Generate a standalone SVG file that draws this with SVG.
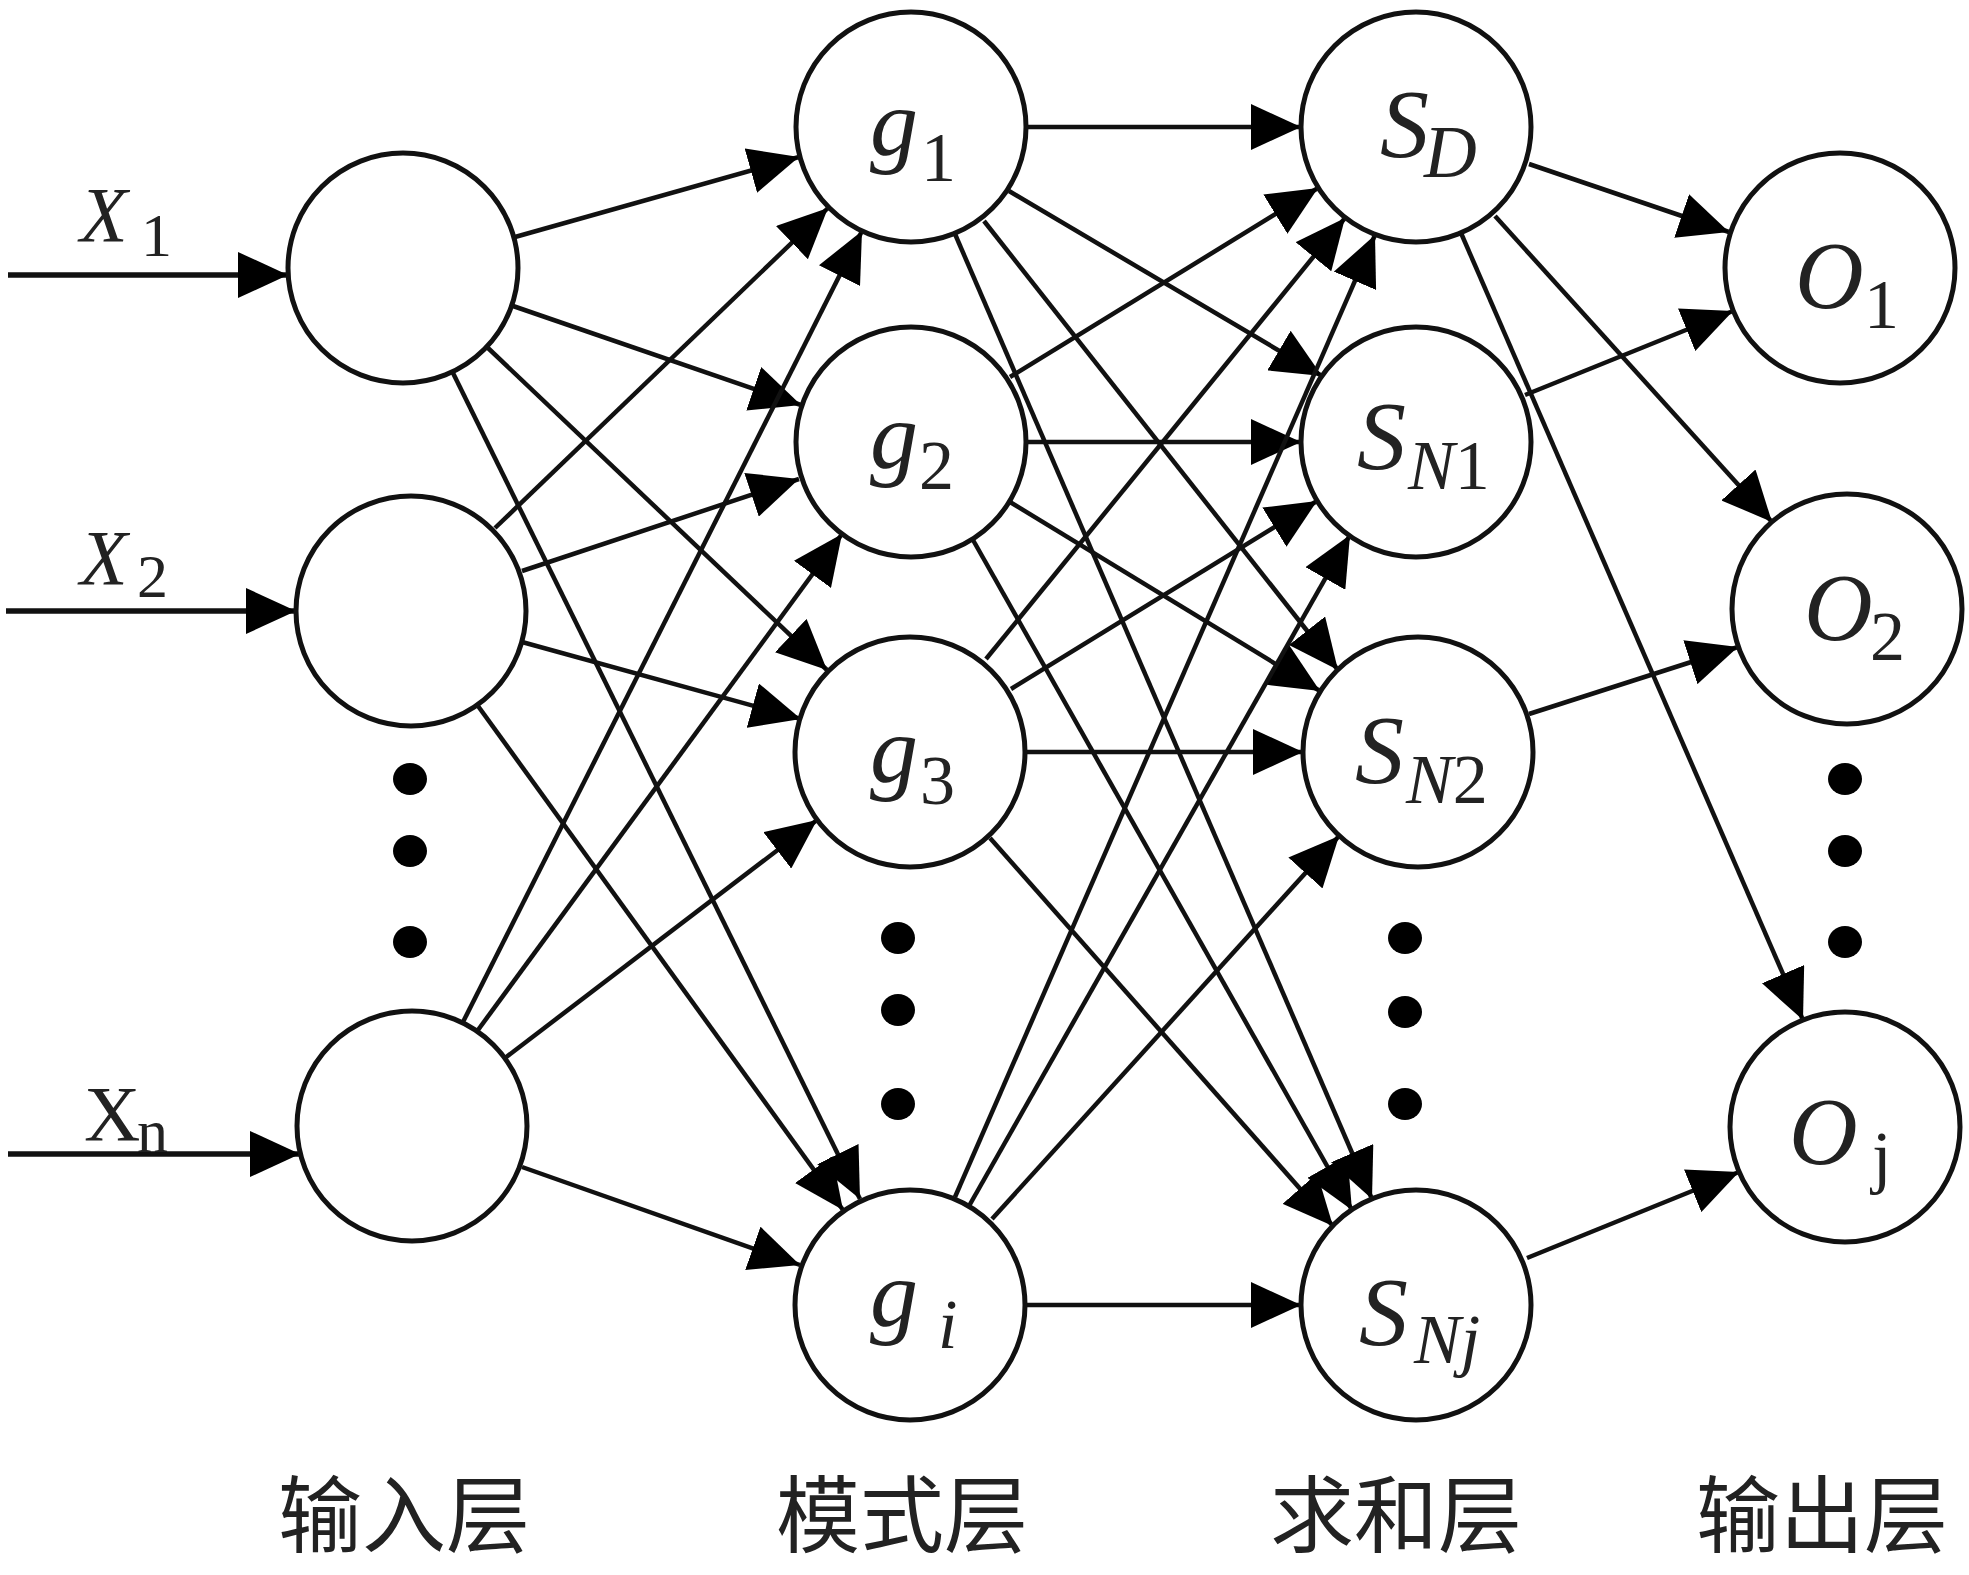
<svg xmlns="http://www.w3.org/2000/svg" width="1969" height="1575" viewBox="0 0 1969 1575">
<style>
.n{fill:#fff;stroke:#111;stroke-width:5}
.e{stroke:#111;stroke-width:4.5;fill:none;marker-end:url(#ah)}
.in{stroke:#111;stroke-width:5.5;fill:none;marker-end:url(#ah)}
.dot{fill:#000}
.v{font-family:"Liberation Serif","Times New Roman",serif;font-style:italic;fill:#222}
.big{font-size:96px}
.sub{font-size:70px}
.r{font-style:normal}
.lab{font-family:"Noto Sans CJK SC","Noto Sans CJK TC",sans-serif;font-size:84px;fill:#222;text-anchor:middle}
</style>
<defs>
<marker id="ah" markerUnits="userSpaceOnUse" markerWidth="50" markerHeight="46" viewBox="-50 -23 50 46" refX="0" refY="0" orient="auto">
<path d="M0,0 L-50,-23 L-50,23 Z" fill="#000"/>
</marker>
</defs>
<rect width="1969" height="1575" fill="#fff"/>
<g id="connectors">
<line class="in" x1="8" y1="275" x2="288" y2="275"/>
<line class="in" x1="6" y1="611" x2="296" y2="611"/>
<line class="in" x1="8" y1="1154" x2="300" y2="1154"/>
<line class="e" x1="515" y1="237" x2="799" y2="157"/>
<line class="e" x1="513" y1="306" x2="801" y2="405"/>
<line class="e" x1="488" y1="348" x2="827" y2="670"/>
<line class="e" x1="453" y1="373" x2="860" y2="1199"/>
<line class="e" x1="495" y1="528" x2="828" y2="208"/>
<line class="e" x1="522" y1="571" x2="799" y2="479"/>
<line class="e" x1="522" y1="642" x2="801" y2="719"/>
<line class="e" x1="478" y1="706" x2="843" y2="1210"/>
<line class="e" x1="463" y1="1022" x2="862" y2="231"/>
<line class="e" x1="478" y1="1030" x2="842" y2="534"/>
<line class="e" x1="505" y1="1058" x2="817" y2="820"/>
<line class="e" x1="522" y1="1167" x2="800" y2="1265"/>
<line class="e" x1="1026" y1="127" x2="1301" y2="127"/>
<line class="e" x1="1009" y1="191" x2="1322" y2="376"/>
<line class="e" x1="984" y1="221" x2="1338" y2="670"/>
<line class="e" x1="955" y1="234" x2="1372" y2="1199"/>
<line class="e" x1="1010" y1="377" x2="1318" y2="188"/>
<line class="e" x1="1026" y1="442" x2="1301" y2="442"/>
<line class="e" x1="1010" y1="502" x2="1320" y2="691"/>
<line class="e" x1="973" y1="540" x2="1352" y2="1210"/>
<line class="e" x1="986" y1="659" x2="1345" y2="218"/>
<line class="e" x1="1011" y1="689" x2="1317" y2="501"/>
<line class="e" x1="1025" y1="752" x2="1303" y2="752"/>
<line class="e" x1="990" y1="838" x2="1333" y2="1226"/>
<line class="e" x1="955" y1="1197" x2="1375" y2="235"/>
<line class="e" x1="969" y1="1206" x2="1350" y2="535"/>
<line class="e" x1="992" y1="1219" x2="1339" y2="836"/>
<line class="e" x1="1025" y1="1305" x2="1301" y2="1305"/>
<line class="e" x1="1529" y1="164" x2="1729" y2="232"/>
<line class="e" x1="1495" y1="216" x2="1772" y2="522"/>
<line class="e" x1="1461" y1="233" x2="1803" y2="1020"/>
<line class="e" x1="1525" y1="395" x2="1733" y2="311"/>
<line class="e" x1="1529" y1="714" x2="1738" y2="647"/>
<line class="e" x1="1527" y1="1258" x2="1739" y2="1172"/>
</g>
<g id="input-labels">
<text class="v" style="font-size:78px" x="80" y="241">X</text>
<text class="v r" style="font-size:62px" x="141" y="256">1</text>
<text class="v" style="font-size:78px" x="80" y="584">X</text>
<text class="v r" style="font-size:62px" x="137" y="597">2</text>
<text class="v r" style="font-size:78px" x="84" y="1140">X</text>
<text class="v r" style="font-size:62px" x="137" y="1152">n</text>
</g>
<g id="in1"><circle class="n" cx="403" cy="268" r="115"/></g>
<g id="in2"><circle class="n" cx="411" cy="611" r="115"/></g>
<g id="in3"><circle class="n" cx="412" cy="1126" r="115"/></g>
<g id="in-dots"><ellipse class="dot" cx="410" cy="779" rx="17" ry="16"/><ellipse class="dot" cx="410" cy="851" rx="17" ry="16"/><ellipse class="dot" cx="410" cy="942" rx="17" ry="16"/></g>
<g id="g1"><circle class="n" cx="911" cy="127" r="115"/><text class="v big" x="870" y="155">g</text><text class="v r sub" x="921" y="181">1</text></g>
<g id="g2"><circle class="n" cx="911" cy="442" r="115"/><text class="v big" x="870" y="468">g</text><text class="v r sub" x="919" y="489">2</text></g>
<g id="g3"><circle class="n" cx="910" cy="752" r="115"/><text class="v big" x="870" y="782">g</text><text class="v r sub" x="920" y="804">3</text></g>
<g id="gi"><circle class="n" cx="910" cy="1305" r="115"/><text class="v big" x="870" y="1326">g</text><text class="v sub" x="938" y="1348">i</text></g>
<g id="g-dots"><ellipse class="dot" cx="898" cy="938" rx="17" ry="16"/><ellipse class="dot" cx="898" cy="1010" rx="17" ry="16"/><ellipse class="dot" cx="898" cy="1104" rx="17" ry="16"/></g>
<g id="SD"><circle class="n" cx="1416" cy="127" r="115"/><text class="v" style="font-size:98px" x="1380" y="157">S</text><text class="v" style="font-size:73px" x="1424" y="177">D</text></g>
<g id="SN1"><circle class="n" cx="1416" cy="442" r="115"/><text class="v" style="font-size:98px" x="1357" y="469">S</text><text class="v sub" x="1408" y="489">N<tspan class="r">1</tspan></text></g>
<g id="SN2"><circle class="n" cx="1418" cy="752" r="115"/><text class="v" style="font-size:98px" x="1355" y="783">S</text><text class="v sub" x="1406" y="803">N<tspan class="r">2</tspan></text></g>
<g id="SNj"><circle class="n" cx="1416" cy="1305" r="115"/><text class="v" style="font-size:98px" x="1359" y="1345">S</text><text class="v sub" x="1414" y="1363">Nj</text></g>
<g id="s-dots"><ellipse class="dot" cx="1405" cy="938" rx="17" ry="16"/><ellipse class="dot" cx="1405" cy="1012" rx="17" ry="16"/><ellipse class="dot" cx="1405" cy="1104" rx="17" ry="16"/></g>
<g id="O1"><circle class="n" cx="1840" cy="268" r="115"/><text class="v" style="font-size:95px" x="1795" y="308">O</text><text class="v r sub" x="1864" y="328">1</text></g>
<g id="O2"><circle class="n" cx="1847" cy="609" r="115"/><text class="v" style="font-size:95px" x="1804" y="640">O</text><text class="v r sub" x="1870" y="660">2</text></g>
<g id="Oj"><circle class="n" cx="1845" cy="1127" r="115"/><text class="v" style="font-size:95px" x="1789" y="1164">O</text><text class="v r sub" x="1872" y="1180">j</text></g>
<g id="o-dots"><ellipse class="dot" cx="1845" cy="779" rx="17" ry="16"/><ellipse class="dot" cx="1845" cy="851" rx="17" ry="16"/><ellipse class="dot" cx="1845" cy="942" rx="17" ry="16"/></g>
<g id="layer-labels">
<text class="lab" x="404" y="1546">输入层</text>
<text class="lab" x="902" y="1546">模式层</text>
<text class="lab" x="1396" y="1546">求和层</text>
<text class="lab" x="1822" y="1546">输出层</text>
</g>
</svg>
